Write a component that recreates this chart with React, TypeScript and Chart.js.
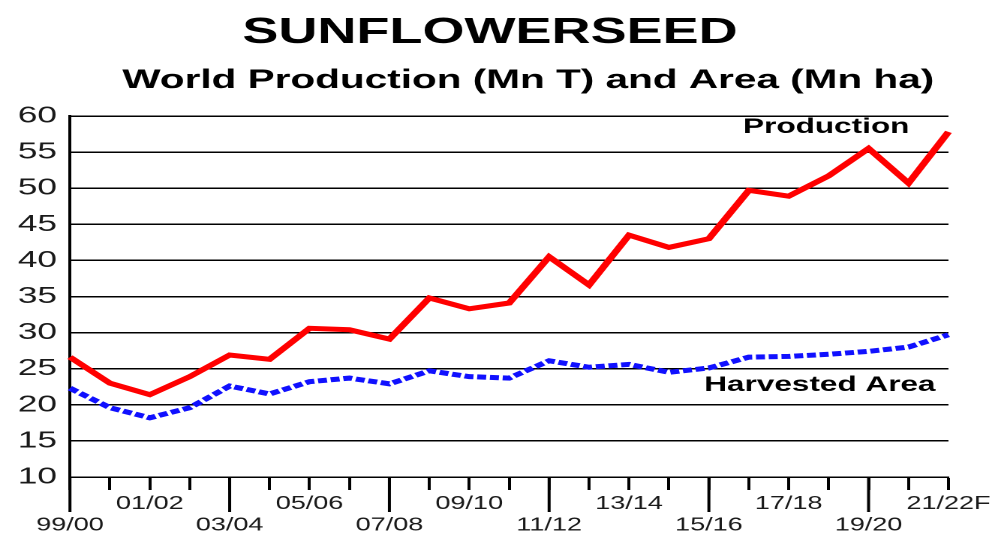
import React, { useEffect, useRef } from 'react';
import { Chart, registerables } from 'chart.js';

Chart.register(...registerables);

const titleText = 'SUNFLOWERSEED';
const subtitleText = 'World Production (Mn T) and Area (Mn ha)';

const categories = [
  '99/00', '00/01', '01/02', '02/03', '03/04', '04/05', '05/06', '06/07',
  '07/08', '08/09', '09/10', '10/11', '11/12', '12/13', '13/14', '14/15',
  '15/16', '16/17', '17/18', '18/19', '19/20', '20/21', '21/22F',
];

const production = [
  26.6, 23.0, 21.4, 23.9, 26.9, 26.3, 30.6, 30.4, 29.1, 34.8, 33.3, 34.1,
  40.5, 36.6, 43.5, 41.8, 43.0, 49.7, 48.9, 51.7, 55.5, 50.7, 57.8,
];

const harvestedArea = [
  22.3, 19.6, 18.2, 19.6, 22.6, 21.5, 23.2, 23.7, 22.9, 24.7, 23.9, 23.7,
  26.1, 25.2, 25.6, 24.5, 25.1, 26.6, 26.7, 27.0, 27.4, 28.0, 29.7,
];

const seriesNames = ['Production', 'Harvested Area'];

const yMin = 10;
const yMax = 60;
const yStep = 5;

// label anchors in data coordinates (category index, value)
const productionLabelAt = [18.94, 57.65];
const areaLabelAt = [18.78, 21.9];

const FULL_W = 995;
const H = 535;
const W = 663; // internal width, stretched horizontally to FULL_W
const FONT = '"Liberation Sans", Arial, Helvetica, sans-serif';

export default function App() {
  const ref = useRef<HTMLCanvasElement | null>(null);

  useEffect(() => {
    if (!ref.current) return;

    const overlay = {
      id: 'overlay',
      afterDraw(chart: any) {
        const { ctx, chartArea } = chart;
        const x = chart.scales.x;
        const y = chart.scales.y;
        ctx.save();
        // long tick marks every fourth season
        ctx.strokeStyle = '#000';
        ctx.lineWidth = 2;
        categories.forEach((_, i) => {
          if (i % 4 === 0) {
            const px = x.getPixelForValue(i);
            ctx.beginPath();
            ctx.moveTo(px, chartArea.bottom);
            ctx.lineTo(px, chartArea.bottom + 35);
            ctx.stroke();
          }
        });
        // titles
        ctx.fillStyle = '#000';
        ctx.textAlign = 'center';
        ctx.textBaseline = 'alphabetic';
        ctx.font = `bold 36px ${FONT}`;
        ctx.fillText(titleText, 326.5, 43);
        ctx.font = `bold 27px ${FONT}`;
        ctx.fillText(subtitleText, 352, 88);
        // series labels
        ctx.font = `bold 21px ${FONT}`;
        ctx.fillText(
          seriesNames[0],
          x.getPixelForValue(productionLabelAt[0]),
          y.getPixelForValue(productionLabelAt[1])
        );
        ctx.fillText(
          seriesNames[1],
          x.getPixelForValue(areaLabelAt[0]),
          y.getPixelForValue(areaLabelAt[1])
        );
        ctx.restore();
      },
    };

    const chart = new Chart(ref.current, {
      type: 'line',
      data: {
        labels: categories,
        datasets: [
          {
            label: seriesNames[0],
            data: production,
            borderColor: '#ff0000',
            borderWidth: 5,
            pointRadius: 0,
            tension: 0,
            fill: false,
          },
          {
            label: seriesNames[1],
            data: harvestedArea,
            borderColor: '#1010ff',
            borderWidth: 5,
            borderDash: [6, 2.5],
            borderCapStyle: 'butt',
            pointRadius: 0,
            tension: 0,
            fill: false,
          },
        ],
      },
      options: {
        animation: false,
        responsive: false,
        devicePixelRatio: 2,
        layout: { padding: { top: 116, right: 30, left: 0, bottom: 0 } },
        plugins: {
          legend: { display: false },
          title: { display: false },
          tooltip: { enabled: false },
        },
        scales: {
          x: {
            type: 'category',
            offset: false,
            afterFit: (s: any) => {
              s.height = 58;
            },
            grid: {
              display: true,
              drawOnChartArea: false,
              drawTicks: true,
              tickLength: 13,
              tickWidth: 2,
              tickColor: '#000',
            },
            border: { display: true, color: '#000', width: 1.5 },
            ticks: {
              autoSkip: false,
              maxRotation: 0,
              minRotation: 0,
              padding: 3,
              color: '#1a1a1a',
              font: { family: FONT, size: 18 },
              callback: (_v: any, i: number) => {
                if (i % 4 === 0) return ['', categories[i]];
                if (i % 4 === 2) return categories[i];
                return '';
              },
            },
          },
          y: {
            min: yMin,
            max: yMax,
            afterFit: (s: any) => {
              s.width = 46.6;
            },
            grid: {
              display: true,
              drawTicks: false,
              color: '#000',
              lineWidth: 1.5,
            },
            border: { display: true, color: '#000', width: 2 },
            ticks: {
              stepSize: yStep,
              padding: 8.6,
              color: '#1a1a1a',
              font: { family: FONT, size: 23.5 },
            },
          },
        },
      },
      plugins: [overlay],
    } as any);

    return () => {
      chart.destroy();
    };
  }, []);

  return (
    <div
      style={{
        position: 'absolute',
        left: 0,
        top: 0,
        width: FULL_W,
        height: H,
        overflow: 'hidden',
        background: '#fff',
      }}
    >
      <div
        style={{
          width: W,
          height: H,
          transform: `scaleX(${FULL_W / W})`,
          transformOrigin: '0 0',
        }}
      >
        <canvas ref={ref} width={W} height={H} style={{ width: W, height: H }} />
      </div>
    </div>
  );
}
